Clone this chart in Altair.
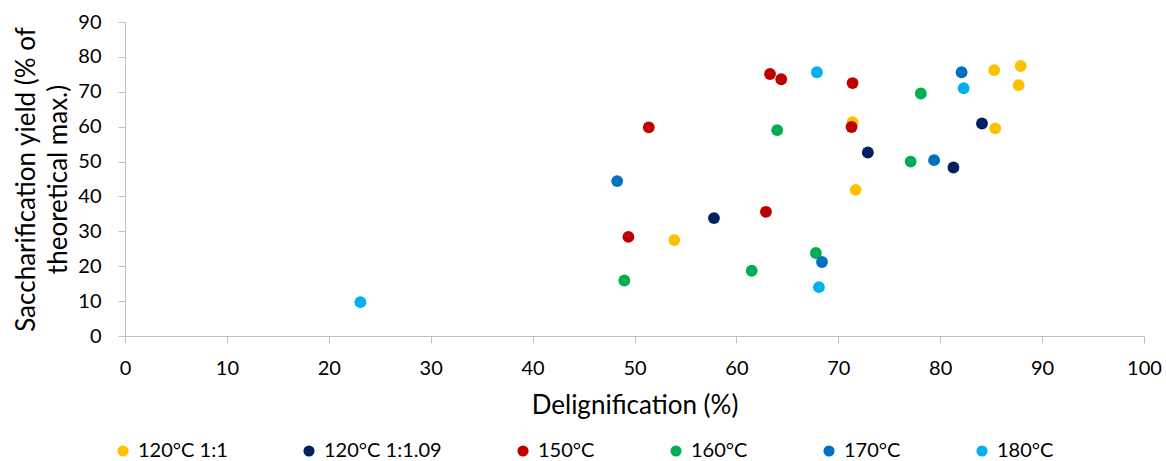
import altair as alt
import pandas as pd

series_names = ["120°C 1:1", "120°C 1:1.09", "150°C", "160°C", "170°C", "180°C"]
series_colors = ["#FFC000", "#002060", "#C00000", "#00B050", "#0070C0", "#00B0F0"]

# Delignification (%) / Saccharification yield (% of theoretical max.)
x_120_1 = [85.3, 87.9, 87.7, 85.4, 71.4, 71.7, 53.9]
y_120_1 = [76.2, 77.4, 71.9, 59.5, 61.3, 41.9, 27.5]

x_120_109 = [84.1, 72.9, 81.3, 57.8]
y_120_109 = [60.9, 52.6, 48.3, 33.8]

x_150 = [63.3, 64.4, 71.4, 71.3, 51.4, 62.9, 49.4]
y_150 = [75.1, 73.6, 72.5, 59.9, 59.8, 35.6, 28.4]

x_160 = [78.1, 64.0, 77.1, 67.8, 61.5, 49.0]
y_160 = [69.5, 59.0, 50.0, 23.8, 18.7, 15.9]

x_170 = [82.1, 79.4, 48.3, 68.4]
y_170 = [75.6, 50.4, 44.4, 21.2]

x_180 = [67.9, 82.3, 68.1, 23.1]
y_180 = [75.6, 71.0, 14.0, 9.7]

x_ticks = list(range(0, 101, 10))
y_ticks = list(range(0, 91, 10))

xs = [x_120_1, x_120_109, x_150, x_160, x_170, x_180]
ys = [y_120_1, y_120_109, y_150, y_160, y_170, y_180]
rows = []
for name, xv, yv in zip(series_names, xs, ys):
    for a, b in zip(xv, yv):
        rows.append({"series": name, "delig": a, "yield": b})
df = pd.DataFrame(rows)

FONT = "Lato"

chart = alt.Chart(df).mark_circle(size=140, opacity=1).encode(
    x=alt.X(
        "delig:Q",
        scale=alt.Scale(domain=[0, 100], nice=False, zero=False),
        axis=alt.Axis(
            values=x_ticks,
            title="Delignification (%)",
            labelPadding=15,
            labelFlush=False,
            titleY=56,
            titleBaseline="top",
        ),
    ),
    y=alt.Y(
        "yield:Q",
        scale=alt.Scale(domain=[0, 90], nice=False),
        axis=alt.Axis(
            values=y_ticks,
            title=["Saccharification yield (% of", "theoretical max.)"],
            labelPadding=17,
            labelFlush=False,
            titleX=-99,
            titleY=157,
            titleAngle=270,
            titleAlign="center",
            titleBaseline="middle",
            titleLineHeight=32,
        ),
    ),
    color=alt.Color(
        "series:N",
        scale=alt.Scale(domain=series_names, range=series_colors),
        legend=alt.Legend(
            orient="none",
            legendX=-12,
            legendY=419,
            direction="horizontal",
            columns=6,
            title=None,
            symbolType="circle",
            symbolSize=123,
            symbolStrokeWidth=0,
            symbolOpacity=1,
            labelFont=FONT,
            labelFontSize=20,
            labelColor="#000000",
            labelOffset=5,
            columnPadding=71,
            padding=0,
        ),
    ),
).properties(
    width=1019,
    height=314,
    padding={"left": 125, "top": 22, "right": 22, "bottom": 125},
    autosize=alt.AutoSizeParams(type="none"),
).configure_view(
    stroke=None
).configure_axis(
    grid=False,
    domainColor="#BFBFBF",
    tickColor="#BFBFBF",
    tickSize=7,
    labelFont=FONT,
    labelFontSize=20,
    labelColor="#000000",
    titleFont=FONT,
    titleFontSize=26,
    titleFontWeight="normal",
    titleColor="#000000",
)

chart.save("out.html", embed_options={"renderer": "svg", "actions": False})
